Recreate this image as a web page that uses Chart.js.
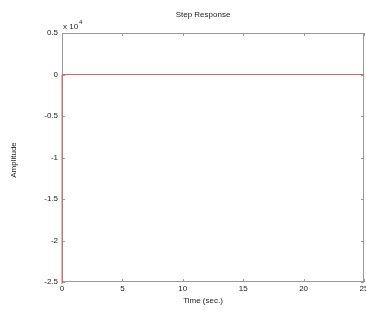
<!DOCTYPE html>
<html>
<head>
<meta charset="utf-8">
<script src="https://cdn.jsdelivr.net/npm/chart.js@4"></script>
<style>
  body { margin: 0; background: #fff; }
  #graf { display: block; }
</style>
</head>
<body>
<canvas id="graf" width="366" height="314"></canvas>
<script>
// stegsvar: hoppar vid t=0, sedan ligger på 0
const tider = [0, 0, 25];
const amplitud = [-3, 0, 0];
const slutvarde = 0;
const xTicks = [0, 5, 10, 15, 20, 25];
const yTicks = [0.5, 0, -0.5, -1, -1.5, -2, -2.5];

const punkter = tider.map((t, i) => ({ x: t, y: amplitud[i] }));
const linje = [{ x: 0, y: slutvarde }, { x: 25, y: slutvarde }];

const font = { family: 'Liberation Sans, Arial', size: 8 };

// ram, inre tickmarks och texter i MATLAB-stil
const matlab = {
  id: 'matlab',
  beforeDatasetsDraw(chart) {
    const { ctx, chartArea: a, scales } = chart;
    ctx.save();
    ctx.strokeStyle = '#999';
    ctx.lineWidth = 1;
    ctx.strokeRect(a.left + 0.5, a.top + 0.5, a.right - a.left - 1, a.bottom - a.top - 1);
    ctx.beginPath();
    xTicks.forEach(v => {
      const px = Math.round(scales.x.getPixelForValue(v)) + 0.5;
      ctx.moveTo(px, a.bottom); ctx.lineTo(px, a.bottom - 3);
      ctx.moveTo(px, a.top); ctx.lineTo(px, a.top + 3);
    });
    yTicks.forEach(v => {
      const py = Math.round(scales.y.getPixelForValue(v)) + 0.5;
      ctx.moveTo(a.left, py); ctx.lineTo(a.left + 3, py);
      ctx.moveTo(a.right, py); ctx.lineTo(a.right - 3, py);
    });
    ctx.stroke();
    ctx.restore();
  },
  afterDatasetsDraw(chart) {
    const { ctx, chartArea: a } = chart;
    ctx.save();
    ctx.fillStyle = '#222';
    ctx.font = '8px Liberation Sans, Arial';
    ctx.textAlign = 'left';
    ctx.fillText('x 10', a.left + 1, a.top - 4);
    ctx.font = '6px Liberation Sans, Arial';
    ctx.fillText('4', a.left + 17, a.top - 9);

    ctx.font = '8px Liberation Sans, Arial';
    ctx.textAlign = 'center';
    ctx.fillText('Step Response', 203, 17);
    ctx.fillText('Time (sec.)', 203, 303);
    ctx.translate(16, 160);
    ctx.rotate(-Math.PI / 2);
    ctx.fillText('Amplitude', 0, 0);
    ctx.restore();
  }
};

new Chart(document.querySelector('#graf'), {
  type: 'line',
  data: {
    datasets: [{
      data: punkter,
      borderColor: '#e06060',
      borderWidth: 1,
      pointRadius: 0,
      tension: 0,
      clip: 2
    }, {
      data: linje,
      borderColor: '#aaa',
      borderWidth: 1,
      borderDash: [2, 2],
      pointRadius: 0
    }]
  },
  options: {
    responsive: false,
    animation: false,
    layout: { padding: { top: 33, right: 2, left: 0, bottom: 0 } },
    plugins: { legend: { display: false }, tooltip: { enabled: false } },
    scales: {
      x: {
        type: 'linear',
        min: 0, max: 25,
        afterBuildTicks: s => { s.ticks = xTicks.map(v => ({ value: v })); },
        afterFit: s => { s.height = 32; s.paddingRight = 0; s.paddingLeft = 0; },
        grid: { display: false, drawTicks: false },
        border: { display: false },
        ticks: { font, color: '#222', padding: 2, maxRotation: 0 }
      },
      y: {
        min: -2.5, max: 0.5,
        afterBuildTicks: s => { s.ticks = yTicks.map(v => ({ value: v })); },
        afterFit: s => { s.width = 62; s.paddingTop = 0; s.paddingBottom = 0; },
        grid: { display: false, drawTicks: false },
        border: { display: false },
        ticks: { font, color: '#222', padding: 4, callback: v => String(v) }
      }
    }
  },
  plugins: [matlab]
});
</script>
</body>
</html>
